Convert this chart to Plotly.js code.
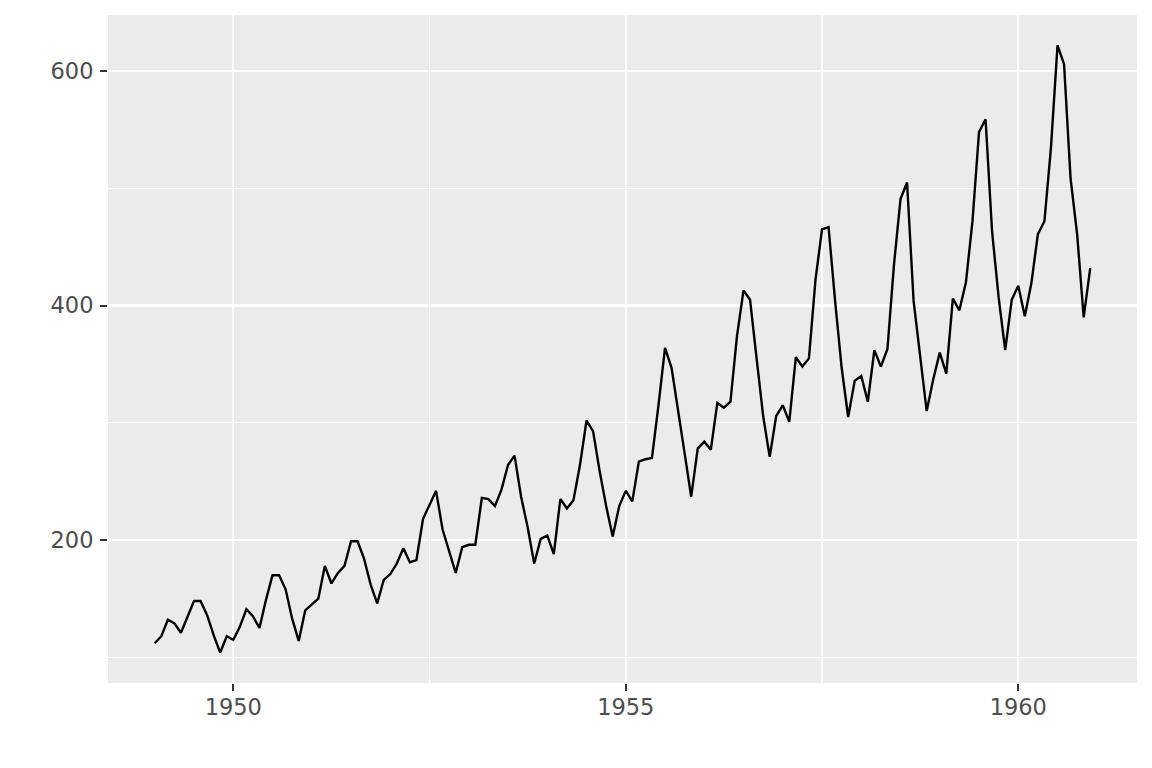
<!DOCTYPE html>
<html><head><meta charset="utf-8">
<script src="https://cdn.plot.ly/plotly-3.0.1.min.js"></script>
<style>html,body{margin:0;padding:0;background:#fff}#chart{width:1152px;height:768px}</style>
</head><body><div id="chart"></div>
<script>
const startYear = 1949;
const passengers = [
  112,118,132,129,121,135,148,148,136,119,104,118,
  115,126,141,135,125,149,170,170,158,133,114,140,
  145,150,178,163,172,178,199,199,184,162,146,166,
  171,180,193,181,183,218,230,242,209,191,172,194,
  196,196,236,235,229,243,264,272,237,211,180,201,
  204,188,235,227,234,264,302,293,259,229,203,229,
  242,233,267,269,270,315,364,347,312,274,237,278,
  284,277,317,313,318,374,413,405,355,306,271,306,
  315,301,356,348,355,422,465,467,404,347,305,336,
  340,318,362,348,363,435,491,505,404,359,310,337,
  360,342,406,396,420,472,548,559,463,407,362,405,
  417,391,419,461,472,535,622,606,508,461,390,432
];
const xTicks = [1950, 1955, 1960];
const yTicks = [200, 400, 600];

const time = passengers.map((_, i) => startYear + i / 12);
const xmin = Math.min(...time), xmax = Math.max(...time);
const ymin = Math.min(...passengers), ymax = Math.max(...passengers);
const xpad = (xmax - xmin) * 0.05, ypad = (ymax - ymin) * 0.05;

const trace = {
  x: time, y: passengers, type: 'scatter', mode: 'lines',
  line: {color: '#000000', width: 2.4}, hoverinfo: 'skip'
};
const axisCommon = {
  showgrid: true, gridcolor: '#FFFFFF', gridwidth: 2.4,
  zeroline: false, showline: false,
  ticks: 'outside', ticklen: 7, tickwidth: 2.2, tickcolor: '#333333',
  tickfont: {family: 'DejaVu Sans, sans-serif', size: 22.5, color: '#4D4D4D'},
  minor: {showgrid: true, gridcolor: '#FFFFFF', gridwidth: 1.2, ticks: ''}
};
const layout = {
  width: 1152, height: 768,
  margin: {l: 108, r: 15, t: 15, b: 85},
  paper_bgcolor: '#FFFFFF', plot_bgcolor: '#EBEBEB',
  showlegend: false,
  xaxis: Object.assign({}, axisCommon, {
    range: [xmin - xpad, xmax + xpad], tickmode: 'array', tickvals: xTicks,
    ticktext: xTicks.map(String), ticklabelstandoff: -3,
    minor: Object.assign({}, axisCommon.minor, {tickmode: 'array', tickvals: [1947.5, 1952.5, 1957.5, 1962.5]})
  }),
  yaxis: Object.assign({}, axisCommon, {
    range: [ymin - ypad, ymax + ypad], tickmode: 'array', tickvals: yTicks,
    ticktext: yTicks.map(String), ticklabelstandoff: 2,
    minor: Object.assign({}, axisCommon.minor, {tickmode: 'array', tickvals: [100, 300, 500]})
  })
};
Plotly.newPlot('chart', [trace], layout, {staticPlot: true, displayModeBar: false});
</script></body></html>
